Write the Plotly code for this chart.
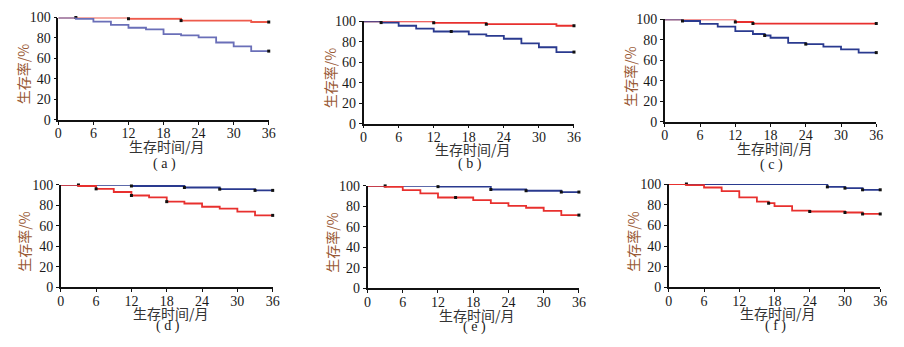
import plotly.graph_objects as go

W, H = 904, 347

# ---------------- data ----------------
panels = ["a", "b", "c", "d", "e", "f"]

a_red_t = [0, 12, 21, 33, 36]
a_red_s = [100, 98.8, 97.0, 95.6, 95.6]
a_red_c = [3, 12, 21, 36]
a_blue_t = [0, 3, 6, 9, 12, 15, 18, 21, 24, 27, 30, 33, 36]
a_blue_s = [100, 98.6, 96.0, 92.8, 90.0, 88.4, 83.8, 82.5, 80.6, 75.6, 71.9, 67.2, 67.2]
a_blue_c = [36]

b_red_t = [0, 12, 21, 33, 36]
b_red_s = [100, 98.6, 97.2, 95.7, 95.7]
b_red_c = [12, 21, 36]
b_blue_t = [0, 3, 6, 9, 12, 18, 21, 24, 27, 30, 33, 36]
b_blue_s = [100, 98.8, 95.7, 92.9, 90.1, 87.3, 85.8, 83.0, 78.4, 74.7, 70.0, 70.0]
b_blue_c = [3, 15, 36]

c_red_t = [0, 12, 15, 36]
c_red_s = [100, 97.5, 96.0, 96.0]
c_red_c = [12, 15, 36]
c_blue_t = [0, 3, 6, 9, 12, 15, 17, 18, 21, 24, 27, 30, 33, 36]
c_blue_s = [100, 98.5, 95.7, 92.9, 88.6, 85.8, 84.3, 82.1, 77.2, 75.9, 73.5, 70.7, 67.6, 67.6]
c_blue_c = [3, 17, 24, 36]

d_blue_t = [0, 12, 21, 27, 33, 36]
d_blue_s = [100, 99.0, 97.5, 95.9, 94.7, 94.7]
d_blue_c = [3, 12, 21, 27, 33, 36]
d_red_t = [0, 3, 6, 9, 12, 15, 18, 21, 24, 27, 30, 33, 36]
d_red_s = [100, 99.0, 96.2, 93.1, 89.7, 87.8, 83.7, 81.9, 78.7, 76.9, 74.0, 70.3, 70.3]
d_red_c = [6, 12, 18, 36]

e_blue_t = [0, 12, 21, 27, 33, 36]
e_blue_s = [100, 99.3, 96.5, 95.3, 94.0, 94.0]
e_blue_c = [3, 12, 21, 27, 33, 36]
e_red_t = [0, 3, 6, 9, 12, 18, 21, 24, 27, 30, 33, 36]
e_red_s = [100, 99.0, 95.9, 92.8, 88.7, 86.2, 83.1, 80.6, 78.7, 75.6, 71.5, 71.5]
e_red_c = [15, 36]

f_blue_t = [0, 27, 30, 33, 36]
f_blue_s = [100, 97.2, 96.0, 94.4, 94.4]
f_blue_c = [3, 27, 30, 33, 36]
f_red_t = [0, 3, 6, 9, 12, 15, 17, 18, 21, 24, 30, 33, 36]
f_red_s = [100, 99.0, 96.6, 93.2, 87.0, 83.0, 81.4, 78.6, 74.3, 73.4, 72.4, 71.0, 71.0]
f_red_c = [17, 24, 30, 33, 36]

x_ticks = [0, 6, 12, 18, 24, 30, 36]
y_ticks = [0, 20, 40, 60, 80, 100]
x_title = "生存时间/月"
y_title = "生存率/%"
captions = ["( a )", "( b )", "( c )", "( d )", "( e )", "( f )"]

data = {
    "a": [(a_red_t, a_red_s, a_red_c, "red"), (a_blue_t, a_blue_s, a_blue_c, "blue")],
    "b": [(b_red_t, b_red_s, b_red_c, "red"), (b_blue_t, b_blue_s, b_blue_c, "blue")],
    "c": [(c_red_t, c_red_s, c_red_c, "red"), (c_blue_t, c_blue_s, c_blue_c, "blue")],
    "d": [(d_blue_t, d_blue_s, d_blue_c, "blue"), (d_red_t, d_red_s, d_red_c, "red")],
    "e": [(e_blue_t, e_blue_s, e_blue_c, "blue"), (e_red_t, e_red_s, e_red_c, "red")],
    "f": [(f_blue_t, f_blue_s, f_blue_c, "blue"), (f_red_t, f_red_s, f_red_c, "red")],
}

# ---------------- layout (pixel boxes) ----------------
boxes = {  # x0, x1, y0(top), y1(bottom)
    "a": (55, 268, 11, 118),
    "b": (364, 577, 15, 122),
    "c": (669, 883, 13, 120),
    "d": (57.5, 272, 186, 293),
    "e": (368, 582, 187, 294),
    "f": (673, 887, 185, 293),
}
ytitle_x = {"a": 20, "b": 330, "c": 634, "d": 20, "e": 332, "f": 637}
xtitle_y = {"a": 145, "b": 148, "c": 147, "d": 320, "e": 322, "f": 320}
cap_y = {"a": 164, "b": 164, "c": 165, "d": 333, "e": 334, "f": 333}

colors = {
    "a": {"red": "#ee5b4c", "blue": "#6a6fb8"},
}
default_colors = {"red": "#e8302e", "blue": "#2a3a8f"}


def step_val(ts, ss, t):
    v = ss[0]
    for ti, si in zip(ts, ss):
        if ti <= t:
            v = si
    return v


fig = go.Figure()
serif = "Liberation Serif"
num_font = dict(family=serif, size=14, color="#1a1a1a")
cjk = "Noto Sans CJK SC"

for i, p in enumerate(panels):
    n = i + 1
    xa = "x" if n == 1 else f"x{n}"
    ya = "y" if n == 1 else f"y{n}"
    cols = colors.get(p, default_colors)
    for ts, ss, cs, cname in data[p]:
        fig.add_trace(go.Scatter(
            x=ts, y=ss, mode="lines", line=dict(color=cols[cname], width=1.8, shape="hv"),
            xaxis=xa, yaxis=ya, showlegend=False, cliponaxis=False, hoverinfo="skip"))
        fig.add_trace(go.Scatter(
            x=cs, y=[step_val(ts, ss, c) for c in cs], mode="markers",
            marker=dict(symbol="square", size=3, color="#111", line=dict(width=0)),
            xaxis=xa, yaxis=ya, showlegend=False, cliponaxis=False, hoverinfo="skip"))

    x0, x1, y0, y1 = boxes[p]
    axx = dict(domain=[x0 / W, x1 / W], range=[0, 36], tickvals=x_ticks, showgrid=False,
               zeroline=False, showline=True, linecolor="#111", linewidth=1.5, ticks="outside",
               ticklen=3, tickcolor="#111", tickwidth=1.2, tickfont=num_font,
               ticklabelstandoff=-3, anchor=ya, fixedrange=True)
    axy = dict(domain=[1 - y1 / H, 1 - y0 / H], range=[0, 100], tickvals=y_ticks, showgrid=False,
               zeroline=False, showline=True, linecolor="#111", linewidth=1.5, ticks="outside",
               ticklen=3, tickcolor="#111", tickwidth=1.2, tickfont=num_font,
               anchor=xa, fixedrange=True)
    fig.layout[("xaxis" if n == 1 else f"xaxis{n}")] = axx
    fig.layout[("yaxis" if n == 1 else f"yaxis{n}")] = axy

    cx = (x0 + x1) / 2
    fig.add_annotation(text=x_title, x=(cx + 4) / W, y=1 - xtitle_y[p] / H, xref="paper", yref="paper",
                       showarrow=False, xanchor="center", yanchor="middle",
                       font=dict(family=cjk, size=14, color="#333333"))
    fig.add_annotation(text=captions[i], x=(cx + 1) / W, y=1 - cap_y[p] / H, xref="paper", yref="paper",
                       showarrow=False, xanchor="center", yanchor="middle",
                       font=dict(family=serif, size=14, color="#222222"))
    fig.add_annotation(text=y_title, x=ytitle_x[p] / W, y=1 - ((y0 + y1) / 2 + 6) / H, xref="paper",
                       yref="paper", showarrow=False, xanchor="center", yanchor="middle", textangle=-90,
                       font=dict(family=cjk, size=14, color="#9a5a36"))

fig.update_layout(width=W, height=H, margin=dict(l=0, r=0, t=0, b=0),
                  paper_bgcolor="white", plot_bgcolor="white")

fig.write_html("out.html")
